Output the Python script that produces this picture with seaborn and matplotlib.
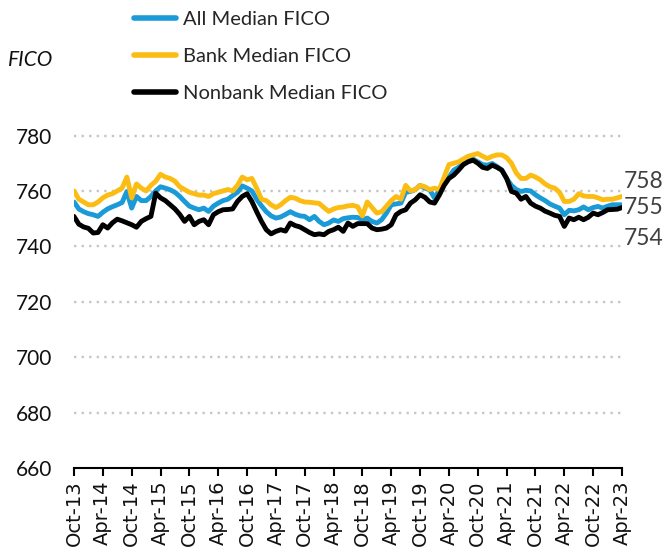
import matplotlib
matplotlib.use("Agg")
import matplotlib.pyplot as plt
import seaborn as sns
import pandas as pd
import numpy as np

tick_labels = ["Oct-13", "Apr-14", "Oct-14", "Apr-15", "Oct-15", "Apr-16", "Oct-16",
               "Apr-17", "Oct-17", "Apr-18", "Oct-18", "Apr-19", "Oct-19", "Apr-20",
               "Oct-20", "Apr-21", "Oct-21", "Apr-22", "Oct-22", "Apr-23"]

all_median = [756, 753.5, 752.5, 751.8, 751.4, 750.8, 752.3, 753.5, 754.3, 755,
              755.8, 759.8, 753.8, 758, 756.5, 756.5, 758, 760, 761.5, 761,
              760.4, 759.5, 758, 756.2, 754.5, 753.8, 753.2, 753.8, 752.6, 754.5,
              755.6, 756.5, 757, 758.3, 759.5, 761.8, 761, 760, 757, 754.6,
              752.5, 751, 750.2, 750.6, 751.5, 752.5, 751.6, 751, 750.8, 749.6,
              750.8, 749, 747.8, 748.4, 749.5, 749, 750, 750.3, 750.5, 750.4,
              749.6, 750.2, 749, 748.4, 749.6, 752, 755, 755.3, 755.6, 759.5,
              759.8, 760.5, 762, 761, 760.4, 757.4, 760.4, 762.5, 765, 767.5,
              768.5, 770, 771.5, 771.5, 770.5, 769.5, 769.3, 769.9, 768.8, 767.5,
              764.5, 762, 760.5, 759.8, 760.2, 760, 758.6, 757.5, 756.5, 755.3,
              754.5, 753.8, 751.4, 753, 752.8, 753.2, 754.2, 753.2, 754, 754.4,
              753.8, 754.5, 755, 755, 755]

bank_median = [760, 757, 756, 755, 755, 756, 757.5, 758.5, 759, 760,
               761, 765, 757.5, 762.5, 761, 760, 762, 763.5, 766, 765,
               764.5, 763.5, 761.5, 760.5, 759.5, 759, 758.5, 758.5, 758, 759,
               759.5, 760, 760.5, 760, 762, 765, 764, 764.5, 761, 757,
               756.5, 755, 754, 755, 756.5, 757.7, 757.4, 756.5, 756, 755.9,
               755.7, 755.5, 754, 752.6, 753.5, 754, 754.2, 754.6, 754.8, 754.3,
               751, 756, 754, 752, 752.5, 754.5, 756.5, 758, 757, 762,
               760, 760.5, 762, 761.5, 760.5, 761, 760.5, 765, 769.5, 770,
               770.5, 771.5, 772.5, 773, 773.5, 772.5, 771.7, 772.5, 773, 773,
               772, 770, 766.5, 764.5, 764.5, 765.7, 765, 764, 762.5, 761.5,
               761, 759.5, 756.2, 756.2, 757, 759, 758.2, 758, 758, 757.5,
               756.8, 757, 757, 757.5, 758]

nonbank_median = [750.8, 748, 747, 746.5, 744.8, 745, 747.8, 746.6, 748.5, 749.8,
                  749.2, 748.5, 747.8, 746.9, 749, 750, 750.8, 759.2, 757.5, 756.5,
                  755, 753.5, 751.5, 749, 750.8, 747.8, 749, 749.6, 747.8, 751.4,
                  752.5, 753.2, 753.3, 753.5, 756.2, 758, 759, 756.2, 752.5, 749,
                  746, 744.5, 745.4, 746, 745.5, 748.4, 747.5, 747, 746, 745,
                  744.2, 744.5, 744.2, 745.4, 746, 746.9, 745.4, 748.4, 747.2, 748.2,
                  748.2, 748.2, 746.6, 746, 746.2, 746.6, 747.8, 751.4, 752.6, 753.2,
                  755.6, 756.8, 758.6, 757.7, 756, 755.6, 758.5, 762, 764.5, 765.7,
                  767.5, 769.5, 770.5, 771.1, 770, 768.5, 768.1, 769.3, 768.5, 767.5,
                  764.5, 759.8, 759.2, 757, 758, 755.6, 754.5, 753.8, 752.7, 752,
                  751.2, 750.8, 747.2, 750.2, 749.6, 750.5, 749.6, 750.5, 752, 751.4,
                  752.2, 753.2, 753.3, 753.4, 754]

series_names = ["All Median FICO", "Bank Median FICO", "Nonbank Median FICO"]
yticks = [660, 680, 700, 720, 740, 760, 780]

n = len(all_median)
month_idx = np.arange(n)
df = pd.DataFrame({
    "month": np.tile(month_idx, 3),
    "value": all_median + bank_median + nonbank_median,
    "series": np.repeat(series_names, n),
})

sns.set_theme(style="white")
plt.rcParams["font.family"] = ["Lato", "DejaVu Sans"]

fig = plt.figure(figsize=(6.63, 5.57), dpi=100)
ax = fig.add_axes([74 / 663, 1 - 468 / 557, (622 - 74) / 663, (468 - 135.5) / 557])

palette = {"All Median FICO": "#1a9ad6", "Bank Median FICO": "#fbbd14",
           "Nonbank Median FICO": "#000000"}
sns.lineplot(data=df, x="month", y="value", hue="series", palette=palette,
             hue_order=series_names, linewidth=3.5, ax=ax, legend=True, zorder=3)

ax.set_xlim(0, n - 1)
ax.set_ylim(660, 780)
ax.set_yticks(yticks)
ax.set_yticklabels([str(v) for v in yticks], fontsize=15, color="#111111")
ax.set_xticks(np.arange(0, n, 6))
ax.set_xticklabels(tick_labels, rotation=90, fontsize=14, color="#111111",
                   family=["DejaVu Sans"])
ax.set_xlabel("")
ax.set_ylabel("")

for v in yticks[1:]:
    ax.plot([0, n - 1], [v, v], color="#c6c6c6", lw=1.7, ls=(0, (1, 2.2)),
            zorder=1, clip_on=False)

for s in ["top", "right", "left"]:
    ax.spines[s].set_visible(False)
ax.spines["bottom"].set_color("black")
ax.spines["bottom"].set_linewidth(1.5)
ax.tick_params(axis="x", direction="out", length=6, width=1.5, color="black", pad=3,
               bottom=True)
ax.tick_params(axis="y", length=0, pad=16)

# end labels
ends = [("758", 181), ("755", 208), ("754", 238)]
for lab, ypix in ends:
    fig.text(624 / 663, 1 - ypix / 557, lab, fontsize=16.5, color="#404040",
             va="center", ha="left")

fig.text(8 / 663, 1 - 60 / 557, "FICO", fontsize=15, style="italic",
         color="#111111", va="center", ha="left")

handles, labels = ax.get_legend_handles_labels()
ax.legend_.remove()
for h in handles:
    h.set_linewidth(4)
    h.set_solid_capstyle("round")
fig.legend(handles, labels, loc="upper left", bbox_to_anchor=(126 / 663, 1 - 3 / 557),
           frameon=False, fontsize=14.5, handlelength=2.1, handletextpad=0.35,
           labelspacing=0.98, borderaxespad=0)

fig.savefig("out.png", dpi=100)
